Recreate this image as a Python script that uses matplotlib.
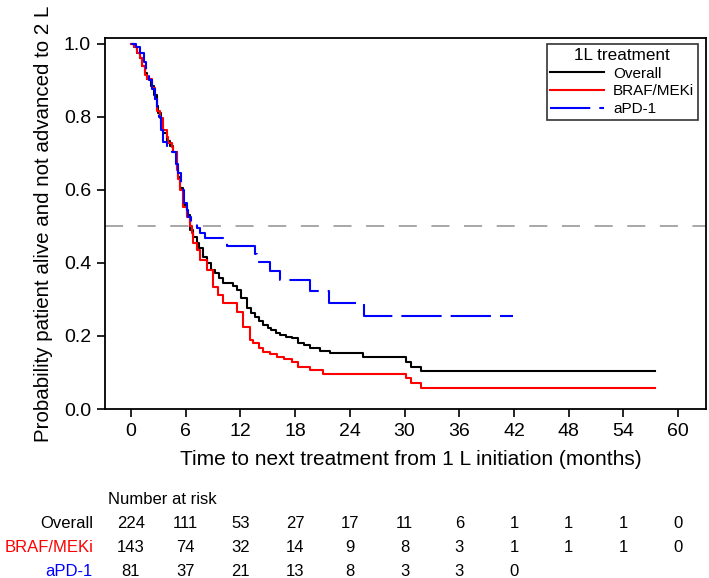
import matplotlib.pyplot as plt
from matplotlib.transforms import blended_transform_factory

plt.rcParams['font.family'] = ['Liberation Sans', 'DejaVu Sans']

# Kaplan-Meier style step curves (months, probability)
overall_t = [0, 0.3, 0.7, 1.0, 1.2, 1.5, 1.8, 2.2, 2.5, 2.8, 3.0, 3.3, 3.5, 3.9,
             4.3, 4.6, 5.0, 5.2, 5.4, 5.7, 6.1, 6.5, 6.8, 7.2, 7.5, 7.9, 8.3, 8.8,
             9.2, 9.6, 10.1, 11.2, 11.6, 12.1, 12.7, 13.2, 13.6, 14.0, 14.5, 15.0,
             15.4, 15.9, 16.3, 17.0, 17.6, 18.3, 19.0, 19.6, 20.7, 21.8, 25.4,
             30.2, 30.7, 31.8, 57.5]
overall_s = [1.0, 0.99, 0.975, 0.96, 0.94, 0.92, 0.905, 0.885, 0.86, 0.83, 0.81,
             0.78, 0.755, 0.735, 0.72, 0.705, 0.66, 0.635, 0.605, 0.56, 0.53, 0.49,
             0.47, 0.455, 0.44, 0.416, 0.40, 0.38, 0.372, 0.358, 0.345, 0.337,
             0.326, 0.304, 0.276, 0.262, 0.252, 0.24, 0.23, 0.222, 0.216, 0.208,
             0.203, 0.198, 0.194, 0.18, 0.175, 0.167, 0.16, 0.153, 0.143, 0.129,
             0.115, 0.104, 0.104]

braf_t = [0, 0.3, 0.7, 1.0, 1.2, 1.5, 1.8, 2.3, 2.6, 2.85, 3.2, 3.5, 3.95, 4.1,
          4.5, 4.6, 5.0, 5.2, 5.4, 5.7, 6.1, 6.5, 6.7, 6.8, 7.2, 7.6, 8.3, 9.0,
          9.5, 10.1, 11.6, 12.3, 13.1, 13.4, 14.0, 14.5, 15.2, 16.0, 16.8, 17.6,
          18.3, 19.6, 21.1, 30.2, 30.7, 31.8, 57.5]
braf_s = [1.0, 0.99, 0.975, 0.96, 0.94, 0.915, 0.905, 0.88, 0.85, 0.815, 0.797,
          0.765, 0.745, 0.728, 0.718, 0.704, 0.655, 0.63, 0.60, 0.553, 0.526,
          0.50, 0.482, 0.455, 0.436, 0.408, 0.38, 0.334, 0.312, 0.29, 0.266,
          0.225, 0.19, 0.18, 0.168, 0.157, 0.15, 0.143, 0.136, 0.129, 0.115,
          0.107, 0.096, 0.085, 0.071, 0.058, 0.058]

apd1_t = [0, 0.5, 1.0, 1.4, 1.6, 2.0, 2.3, 2.6, 2.9, 3.1, 3.3, 3.5, 4.0, 4.5,
          4.9, 5.2, 5.5, 5.8, 6.1, 6.3, 6.6, 7.2, 7.6, 8.1, 10.3, 10.5, 13.6,
          13.8, 15.2, 16.3, 19.6, 21.7, 25.5, 41.9]
apd1_s = [1.0, 0.99, 0.975, 0.95, 0.925, 0.90, 0.875, 0.85, 0.815, 0.80, 0.765,
          0.73, 0.72, 0.705, 0.67, 0.646, 0.60, 0.564, 0.545, 0.526, 0.507,
          0.496, 0.482, 0.468, 0.455, 0.447, 0.425, 0.403, 0.378, 0.352, 0.323,
          0.29, 0.255, 0.255]

risk_times = [0, 6, 12, 18, 24, 30, 36, 42, 48, 54, 60]
risk_labels = ['Overall', 'BRAF/MEKi', 'aPD-1']
risk_overall = [224, 111, 53, 27, 17, 11, 6, 1, 1, 1, 0]
risk_braf = [143, 74, 32, 14, 9, 8, 3, 1, 1, 1, 0]
risk_apd1 = [81, 37, 21, 13, 8, 3, 3, 0]

W, H = 709, 578
fig = plt.figure(figsize=(W / 100, H / 100), dpi=100)
ax = fig.add_axes([105 / W, 1 - 409 / H, (706 - 105) / W, (409 - 38) / H])

lw = 1.5
ax.step(overall_t, overall_s, where='post', color='black', lw=lw, label='Overall')
ax.step(braf_t, braf_s, where='post', color='#ff0000', lw=lw, label='BRAF/MEKi')
ax.step(apd1_t, apd1_s, where='post', color='#0000ff', lw=lw,
        ls=(0, (29 / lw, 6.5 / lw)), label='aPD-1')
ax.axhline(0.5, color='#a0a0a0', lw=1.3, ls=(0, (13 / 1.3, 10.5 / 1.3)))

ax.set_xlim(-2.85, 63.05)
ax.set_ylim(0, 1.016)
ax.set_xticks(risk_times)
ax.set_yticks([0, 0.2, 0.4, 0.6, 0.8, 1.0])
ax.set_yticklabels(['0.0', '0.2', '0.4', '0.6', '0.8', '1.0'])
ax.tick_params(direction='out', length=6, width=1.2, labelsize=14, pad=4)
for sp in ax.spines.values():
    sp.set_linewidth(1.3)

ax.set_xlabel('Time to next treatment from 1 L initiation (months)', fontsize=15,
              labelpad=7)
ax.xaxis.label.set_x((411 - 105) / (706 - 105))
ax.set_ylabel('Probability patient alive and not advanced to 2 L', fontsize=14.8,
              labelpad=8)

leg = ax.legend(title='1L treatment', loc='upper right',
                bbox_to_anchor=(698 / W, 1 - 44 / H), bbox_transform=fig.transFigure,
                borderaxespad=0, fontsize=11, title_fontsize=12.3, fancybox=False,
                framealpha=1, edgecolor='#333333', handlelength=3.5,
                handletextpad=0.6, labelspacing=0.25, borderpad=0.25)
leg.get_frame().set_linewidth(1.2)

# number at risk table
tr = blended_transform_factory(ax.transData, fig.transFigure)
fig.text(108 / W, 1 - 499 / H, 'Number at risk', fontsize=12, va='center', ha='left')
row_y = [523, 547, 572]
row_colors = ['black', '#ff0000', '#0000ff']
for lab, vals, yy, c in zip(risk_labels, [risk_overall, risk_braf, risk_apd1],
                            row_y, row_colors):
    fig.text(93 / W, 1 - yy / H, lab, fontsize=12, color=c, ha='right', va='center')
    for t, v in zip(risk_times, vals):
        ax.text(t, 1 - yy / H, str(v), transform=tr, fontsize=12, ha='center',
                va='center', clip_on=False)

fig.savefig('out.png', dpi=100)
